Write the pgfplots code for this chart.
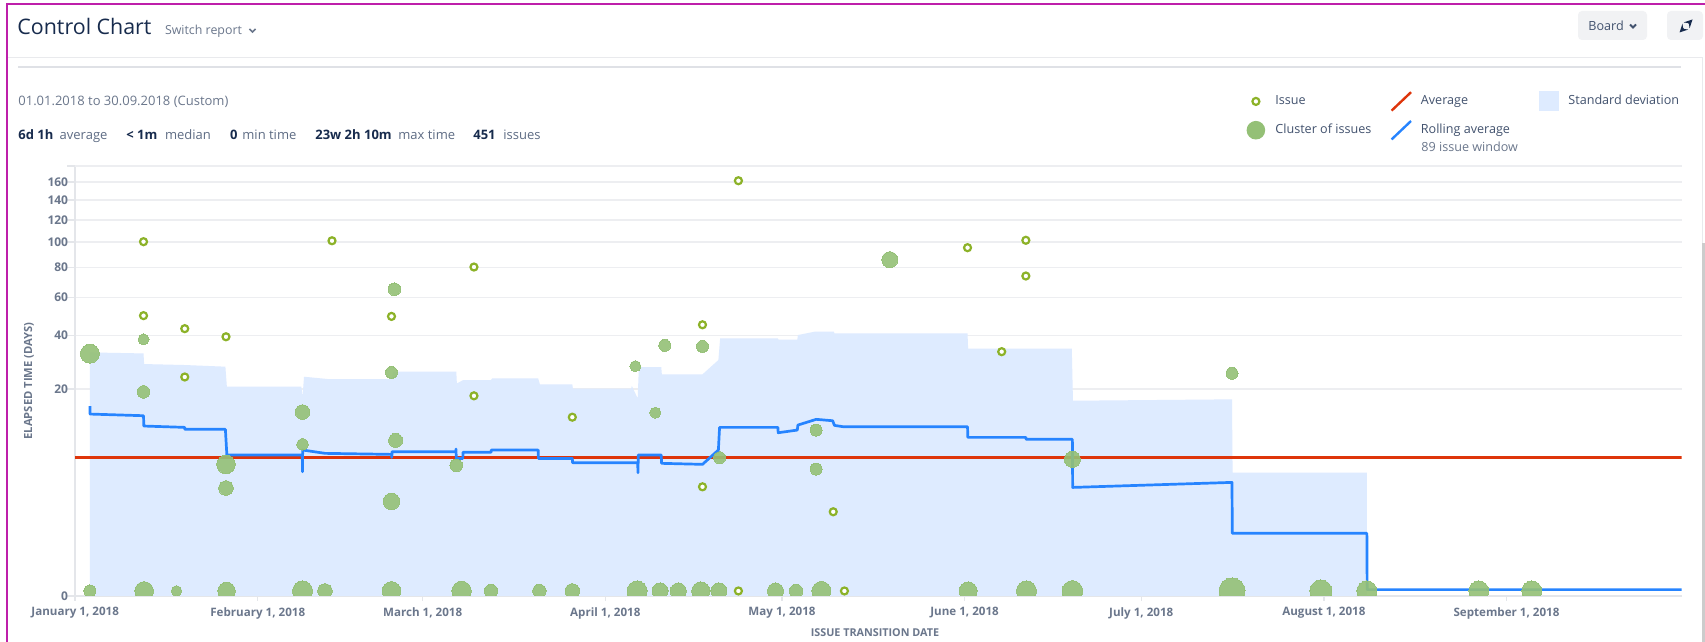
\documentclass[border=0pt]{standalone}
\usepackage{pgfplots}
\pgfplotsset{compat=1.18}
\usepackage{pgfplotstable}
\usepackage{fontspec}
\setmainfont{Open Sans}
\definecolor{navy}{HTML}{172B4D}
\definecolor{slate}{HTML}{6B778C}
\definecolor{slate2}{HTML}{5E6C84}
\definecolor{legtext}{HTML}{42526E}
\definecolor{bandblue}{HTML}{DEEBFF}
\definecolor{rollblue}{HTML}{2684FF}
\definecolor{avgred}{HTML}{DE350B}
\definecolor{clustergreen}{HTML}{94C076}
\definecolor{issuegreen}{HTML}{8CB228}
\definecolor{gridgray}{HTML}{EDEEF1}
\definecolor{axisgray}{HTML}{E4E6EA}
\definecolor{sepgray}{HTML}{DFE1E6}
\definecolor{btngray}{HTML}{F1F2F4}
\definecolor{magentaframe}{HTML}{BE1FAA}
\newcommand{\tickfont}{\fontsize{5.8}{6.5}\selectfont\bfseries}
\newcommand{\ytickfont}{\fontsize{6}{7}\selectfont\bfseries}
\newcommand{\legfont}{\fontsize{6.3}{7.5}\selectfont}
\newcommand{\cuberoottrafo}[1]{%
  \begingroup
  \pgfkeys{/pgf/fpu=true,/pgf/fpu/output format=fixed}%
  \pgfmathparse{exp(ln(max(#1,0.000000001))/3)}%
  \global\let\mycuberesult\pgfmathresult
  \endgroup
  \let\pgfmathresult\mycuberesult}

% standard deviation band (upper edge), days
\pgfplotstableread{
day val
2.5 0
2.5 32.6
11.6 32.2
11.7 28.15
18.6 27.8
25.5 27.2
25.75 20.67
38.4 20.67
38.6 17.85
38.85 23.78
42.9 23.04
53.7 23.04
54.0 25.45
64.7 25.45
64.8 21.69
65.9 22.72
70.6 22.72
70.8 23.26
78.6 23.26
78.9 21.39
84.4 21.39
84.5 20.09
94.4 20.09
94.5 20.9
95.5 17.42
95.7 27.08
99.5 27.08
99.6 24.57
106.5 24.57
109.2 29.64
109.5 38.58
119.3 38.58
119.4 37.97
122.6 37.97
122.7 40.09
125.5 41.63
128.8 41.63
128.9 40.87
151.5 40.87
151.6 34.1
169.2 34.1
169.4 16.8
196.4 17.16
196.5 4.23
219.3 4.23
219.3 0
}\bandtable

% rolling average, days
\pgfplotstableread{
day val
2.5 15.47
2.5 13.59
11.6 13.22
11.65 11.08
18.6 10.82
18.6 10.45
25.5 10.45
25.75 6.32
38.55 6.32
38.6 4.33
38.62 7.02
42.45 6.55
53.7 6.41
53.75 6.0
53.8 6.78
64.6 6.78
64.65 7.16
64.7 5.88
65.8 5.88
65.85 6.70
70.6 6.70
70.65 7.02
78.6 7.02
78.65 5.88
84.4 5.88
84.45 5.34
95.5 5.34
95.55 4.23
95.6 6.32
99.5 6.32
99.55 5.27
106.5 5.15
109.2 7.02
109.4 10.82
119.3 10.82
119.35 9.82
122.6 10.31
122.7 11.27
125.8 12.44
128.6 12.15
128.9 11.21
130.4 10.94
151.5 10.94
151.55 9.01
161.4 9.01
161.45 8.68
169.3 8.68
169.35 2.89
196.4 3.31
196.45 0.556
219.3 0.556
219.35 0.0006
272.75 0.0006
}\rolltable

% clusters of issues: day, days elapsed, radius (px)
\pgfplotstableread{
day val r
2.5 32.1 9.5
11.6 38.1 5.5
11.6 19.2 6.3
25.6 5.15 9.3
25.6 2.84 7.3
38.6 14.05 7.3
38.6 7.87 5.7
53.7 25.2 6.0
54.2 65.1 6.3
54.4 8.51 7.0
53.7 1.91 8.3
64.7 5.03 6.3
95.1 27.4 5.5
98.5 13.9 5.5
100.1 35.5 6.0
106.5 35.1 6.0
109.4 5.97 6.0
125.8 10.3 6.0
125.8 4.62 6.0
138.3 85.8 8.0
169.3 5.76 8.0
196.4 24.9 6.0
2.5 0.0003 6
11.7 0.0003 9.3
17.2 0.0003 5.3
25.7 0.0003 8.7
38.6 0.0003 10
42.4 0.0003 7.3
53.7 0.0003 9.3
65.6 0.0003 9.7
70.6 0.0003 6.7
78.8 0.0003 6.7
84.4 0.0003 7.3
95.4 0.0003 10
99.3 0.0003 8
102.4 0.0003 8
106.2 0.0003 9
109.3 0.0003 8
118.9 0.0003 8
122.4 0.0003 6.7
126.7 0.0003 9.5
151.6 0.0003 9
161.5 0.0003 10
169.3 0.0003 10.3
196.4 0.0003 13
211.5 0.0003 11
219.3 0.0003 10
238.3 0.0003 10
247.3 0.0003 10
}\clustertable

% single issues
\pgfplotstableread{
day val
11.6 100.3
11.6 49.7
18.6 43.1
18.6 23.7
25.6 39.3
43.6 101.1
53.7 49.3
67.7 80.3
67.7 18.1
84.4 12.9
106.5 45.0
106.5 2.94
112.6 161.5
128.7 1.35
151.5 95.3
157.3 32.9
161.4 101.5
161.4 73.9
112.6 0.0003
130.6 0.0003
}\issuetable

\pgfplotstableread{
day val
0 6.04
272.75 6.04
}\avgtable

\begin{document}
\begin{tikzpicture}
\path[use as bounding box] (0pt,0pt) rectangle (852.5pt,321pt);
\fill[white] (0pt,0pt) rectangle (852.5pt,321pt);

\begin{axis}[
  at={(37.6pt,23pt)}, anchor=south west,
  scale only axis, width=803.25pt, height=215pt,
  xmin=0, xmax=272.75, ymin=0, ymax=179.3,
  y coord trafo/.code={\cuberoottrafo{#1}},
  clip marker paths=true,
  axis lines=left,
  axis line style={-, draw=axisgray, line width=1pt},
  ymajorgrids, grid style={draw=gridgray, line width=0.7pt},
  tick align=outside,
  xtick={0,31,59,90,120,151,181,212,243},
  xticklabels={{January 1, 2018},{February 1, 2018},{March 1, 2018},{April 1, 2018},{May 1, 2018},{June 1, 2018},{July 1, 2018},{August 1, 2018},{September 1, 2018}},
  ytick={0,20,40,60,80,100,120,140,160},
  yticklabels={0,20,40,60,80,100,120,140,160},
  extra y ticks={179.3}, extra y tick labels={},
  extra y tick style={grid=major, major tick length=0pt},
  xtick style={draw=axisgray, line width=0.7pt, /pgfplots/major tick length=2.5pt},
  ytick style={draw=axisgray, line width=0.7pt, /pgfplots/major tick length=4pt},
  xticklabel style={font=\tickfont, text=slate, inner sep=0pt, anchor=north, yshift=-1.2pt},
  yticklabel style={font=\ytickfont, text=slate, inner sep=0pt, anchor=east, xshift=0.9pt},
  legend columns=3,
  legend cell align=left,
  legend style={at={(0.7281,1.1744)}, anchor=north west, draw=none, fill=none,
    inner sep=0pt, outer sep=0pt,
    nodes={inner sep=0pt, text=legtext, font=\legfont},
    /tikz/column sep=0pt, /tikz/row sep=4pt},
]
% legend images
\addlegendimage{legend image code/.code={\path[draw=none,fill=none] (-1pt,-5pt) rectangle (14.25pt,5pt);
  \draw[issuegreen, line width=1.1pt, fill=white] (4.5pt,0pt) circle (1.75pt);}}
\addlegendentry{\makebox[57.5pt][l]{Issue}}
\addlegendimage{legend image code/.code={\path[draw=none,fill=none] (-1pt,-5pt) rectangle (14.25pt,5pt);
  \draw[avgred, line width=1.2pt] (-0.4pt,-4.6pt) -- (9.3pt,4.6pt);}}
\addlegendentry{\makebox[58.5pt][l]{Average}}
\addlegendimage{legend image code/.code={\path[draw=none,fill=none] (-1pt,-5pt) rectangle (14.25pt,5pt);
  \path[fill=bandblue, draw=none] (-0.4pt,-5pt) rectangle (9.45pt,5pt);}}
\addlegendentry{Standard deviation}
\addlegendimage{legend image code/.code={\path[draw=none,fill=none] (-1pt,-5pt) rectangle (14.25pt,5pt);
  \path[fill=clustergreen, draw=none] (4.5pt,0pt) circle (4.65pt);}}
\addlegendentry{\makebox[57.5pt][l]{Cluster of issues}}
\addlegendimage{legend image code/.code={\path[draw=none,fill=none] (-1pt,-5pt) rectangle (14.25pt,5pt);
  \draw[rollblue, line width=1.2pt] (-0.4pt,-4.6pt) -- (9.3pt,4.6pt);}}
\addlegendentry{\makebox[58.5pt][l]{Rolling average}}

% standard deviation band
\addplot[draw=none, fill=bandblue] table[x=day,y=val]{\bandtable} -- cycle;
% average
\addplot[avgred, line width=1.5pt] table[x=day,y=val]{\avgtable};
% rolling average
\addplot[rollblue, line width=1.35pt, line join=round] table[x=day,y=val]{\rolltable};
% clusters
\addplot[scatter, only marks, mark=*, point meta=\thisrow{r},
  scatter/use mapped color={draw=clustergreen, fill=clustergreen},
  mark options={line width=0pt},
  fill opacity=0.9, draw opacity=0.9,
  visualization depends on={\thisrow{r}\as\rr},
  scatter/@pre marker code/.append style={/tikz/mark size=\rr*0.5}]
  table[x=day,y=val]{\clustertable};
% issues
\addplot[only marks, mark=*, mark size=1.75pt,
  mark options={draw=issuegreen, fill=white, line width=1.1pt}]
  table[x=day,y=val]{\issuetable};
\end{axis}

\begin{scope}[x=0.5pt, y=-0.5pt, yshift=321pt]
% frame and header
\draw[magentaframe, line width=1pt] (7,642) -- (7,4) -- (1705,4);
\draw[sepgray!70, line width=0.5pt] (8,58) -- (1702,58) -- (1702,243);
\fill[black!20] (1702,243) rectangle (1705,642);
\draw[sepgray, line width=1pt] (18,66.7) -- (1681,66.7);

\node[anchor=base west, inner sep=0pt, text=navy, font=\fontsize{10.7}{12}\selectfont] at (17,35) {Control Chart};
\node[anchor=base west, inner sep=0pt, text=slate, font=\fontsize{6.2}{7}\selectfont] at (164.6,34.5) {Switch report};
\draw[slate, line width=0.8pt] (249.5,29) -- (252.5,32) -- (255.5,29);

\fill[btngray, rounded corners=2pt] (1578,11) rectangle (1647,40);
\node[anchor=base west, inner sep=0pt, text=legtext, font=\fontsize{6.3}{7}\selectfont] at (1588,31) {Board};
\draw[legtext, line width=0.9pt] (1630,24.5) -- (1633,27.5) -- (1636,24.5);
\fill[btngray, rounded corners=2pt] (1667,11) rectangle (1703,40);
\draw[navy, line width=0.8pt, ->, >=stealth] (1683.5,28.5) -- (1679.5,32.5);
\draw[navy, line width=0.8pt, ->, >=stealth] (1688.5,23.5) -- (1692.5,19.5);

\node[anchor=base west, inner sep=0pt, text=slate, font=\fontsize{6.5}{7.5}\selectfont] at (18,106) {01.01.2018 to 30.09.2018 (Custom)};
\begin{scope}[every node/.style={anchor=base west, inner sep=0pt, font=\fontsize{6.5}{7.5}\selectfont}]
\node[text=navy, font=\fontsize{6.5}{7.5}\selectfont\bfseries] at (18,140) {6d 1h};
\node[text=slate2] at (59.3,140) {average};
\node[text=navy, font=\fontsize{6.5}{7.5}\selectfont\bfseries] at (126,140) {< 1m};
\node[text=slate2] at (164.6,140) {median};
\node[text=navy, font=\fontsize{6.5}{7.5}\selectfont\bfseries] at (229.6,140) {0};
\node[text=slate2] at (242,140) {min time};
\node[text=navy, font=\fontsize{6.5}{7.5}\selectfont\bfseries] at (315,140) {23w 2h 10m};
\node[text=slate2] at (398,140) {max time};
\node[text=navy, font=\fontsize{6.5}{7.5}\selectfont\bfseries] at (473,140) {451};
\node[text=slate2] at (503,140) {issues};
\end{scope}
\node[anchor=base west, inner sep=0pt, text=slate, font=\legfont] at (1421,152) {89 issue window};

% axis titles
\node[rotate=90, inner sep=0pt, text=slate, font=\fontsize{5.6}{6.5}\selectfont\bfseries] at (29,381) {ELAPSED TIME (DAYS)};
\node[inner sep=0pt, text=slate, font=\fontsize{5.4}{6.5}\selectfont\bfseries] at (875,633) {ISSUE TRANSITION DATE};
\end{scope}
\end{tikzpicture}
\end{document}
